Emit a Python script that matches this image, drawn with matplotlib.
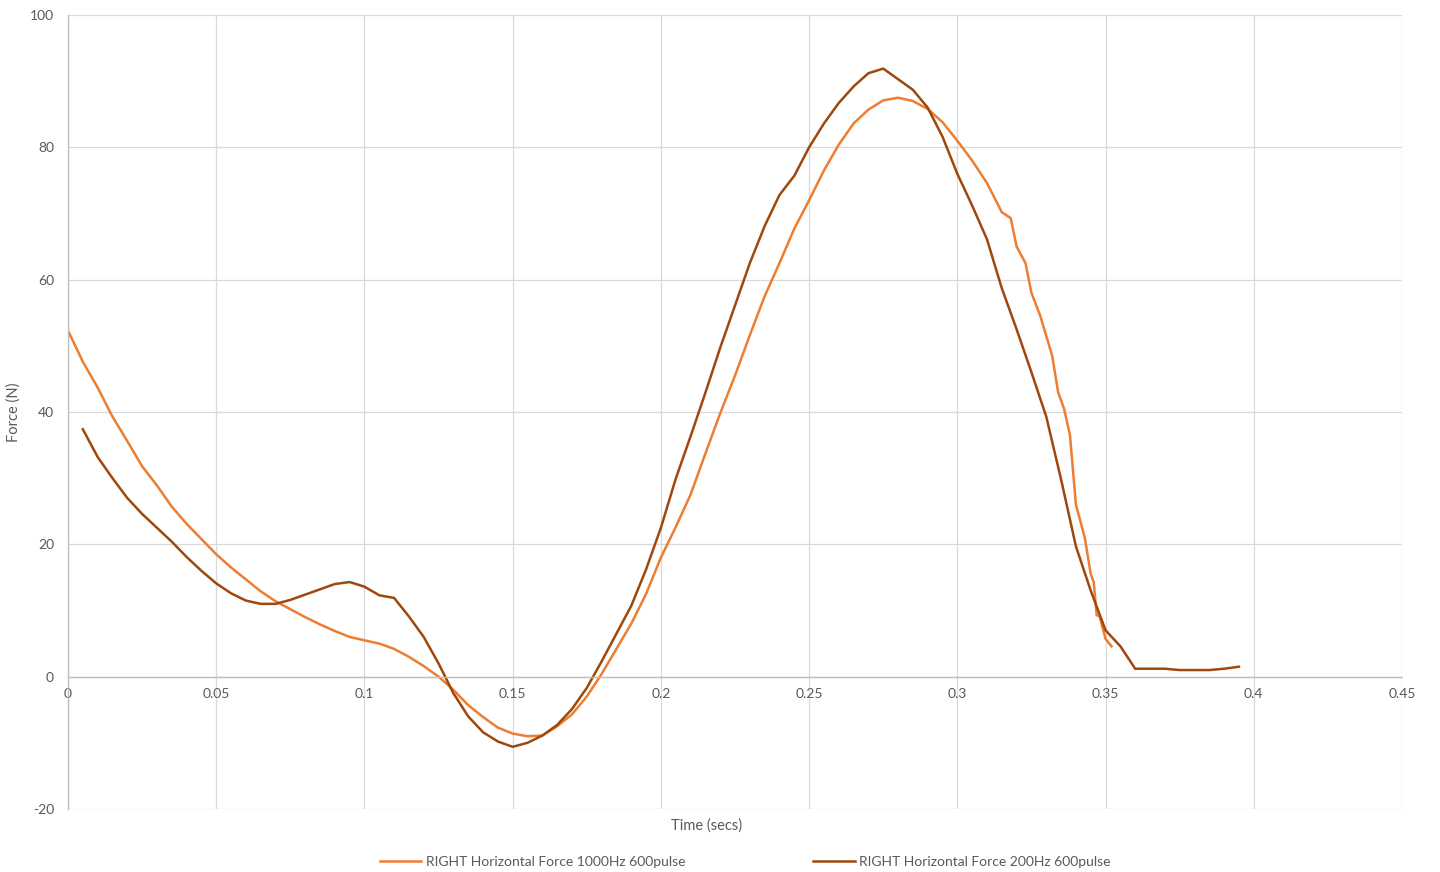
import matplotlib
matplotlib.use("Agg")
import matplotlib.pyplot as plt
import numpy as np

# Time (secs) and force (N)
t_200hz = [0.005, 0.010, 0.015, 0.020, 0.025, 0.030, 0.035, 0.040, 0.045, 0.050,
           0.055, 0.060, 0.065, 0.070, 0.075, 0.080, 0.085, 0.090, 0.095, 0.100,
           0.105, 0.110, 0.115, 0.120, 0.125, 0.130, 0.135, 0.140, 0.145, 0.150,
           0.155, 0.160, 0.165, 0.170, 0.175, 0.180, 0.185, 0.190, 0.195, 0.200,
           0.205, 0.210, 0.215, 0.220, 0.225, 0.230, 0.235, 0.240, 0.245, 0.250,
           0.255, 0.260, 0.265, 0.270, 0.275, 0.280, 0.285, 0.290, 0.295, 0.300,
           0.305, 0.310, 0.315, 0.320, 0.325, 0.330, 0.335, 0.340, 0.345, 0.350,
           0.355, 0.360, 0.365, 0.370, 0.375, 0.380, 0.385, 0.390, 0.395]
force_200hz = [37.4, 33.2, 30.0, 27.0, 24.6, 22.5, 20.4, 18.1, 16.0, 14.1,
               12.6, 11.5, 11.0, 11.0, 11.6, 12.4, 13.2, 14.0, 14.3, 13.6,
               12.3, 11.9, 9.1, 6.0, 2.0, -2.5, -6.0, -8.4, -9.8, -10.6,
               -10.0, -8.9, -7.3, -4.9, -1.7, 2.3, 6.5, 10.7, 16.2, 22.5,
               29.9, 36.3, 42.9, 49.7, 56.1, 62.5, 68.1, 72.8, 75.7, 80.0,
               83.6, 86.7, 89.2, 91.2, 91.9, 90.3, 88.7, 86.0, 81.6, 76.0,
               71.2, 66.1, 58.7, 52.5, 46.0, 39.3, 29.8, 19.7, 13.0, 7.0,
               4.6, 1.2, 1.2, 1.2, 1.0, 1.0, 1.0, 1.2, 1.5]

t_1000hz = [0.000, 0.005, 0.010, 0.015, 0.020, 0.025, 0.030, 0.035, 0.040, 0.045,
            0.050, 0.055, 0.060, 0.065, 0.070, 0.075, 0.080, 0.085, 0.090, 0.095,
            0.100, 0.105, 0.110, 0.115, 0.120, 0.125, 0.130, 0.135, 0.140, 0.145,
            0.150, 0.155, 0.160, 0.165, 0.170, 0.175, 0.180, 0.185, 0.190, 0.195,
            0.200, 0.205, 0.210, 0.215, 0.220, 0.225, 0.230, 0.235, 0.240, 0.245,
            0.250, 0.255, 0.260, 0.265, 0.270, 0.275, 0.280, 0.285, 0.290, 0.295,
            0.300, 0.305, 0.310, 0.315, 0.318, 0.320, 0.323, 0.325, 0.328, 0.330,
            0.332, 0.334, 0.336, 0.338, 0.340, 0.343, 0.345, 0.346, 0.347, 0.348,
            0.350, 0.352]
force_1000hz = [52.3, 47.6, 43.7, 39.3, 35.6, 31.8, 28.9, 25.7, 23.1, 20.8,
                18.5, 16.5, 14.7, 12.9, 11.4, 10.2, 9.0, 7.9, 6.9, 6.0,
                5.5, 5.0, 4.2, 3.0, 1.6, 0.0, -2.0, -4.3, -6.1, -7.7,
                -8.6, -9.0, -8.9, -7.5, -5.7, -3.0, 0.4, 4.2, 8.0, 12.5,
                18.0, 22.6, 27.5, 33.7, 39.8, 45.5, 51.6, 57.5, 62.5, 67.7,
                72.0, 76.5, 80.4, 83.6, 85.7, 87.1, 87.5, 87.0, 85.8, 83.8,
                81.0, 78.0, 74.6, 70.2, 69.3, 65.0, 62.5, 58.0, 54.5, 51.5,
                48.5, 43.0, 40.5, 36.5, 26.0, 21.0, 15.5, 14.3, 9.3, 9.1,
                5.7, 4.6]

labels = ['RIGHT Horizontal Force 1000Hz 600pulse', 'RIGHT Horizontal Force 200Hz 600pulse']
colors = ['#ED7D31', '#9E480E']

x_ticks = [0, 0.05, 0.1, 0.15, 0.2, 0.25, 0.3, 0.35, 0.4, 0.45]
x_tick_labels = ['0', '0.05', '0.1', '0.15', '0.2', '0.25', '0.3', '0.35', '0.4', '0.45']
y_ticks = [-20, 0, 20, 40, 60, 80, 100]

plt.rcParams['font.family'] = ['Lato', 'DejaVu Sans']
plt.rcParams['axes.unicode_minus'] = False

fig = plt.figure(figsize=(14.4, 8.72), dpi=100)
ax = fig.add_axes([68 / 1440, 63 / 872, 1334 / 1440, 794 / 872])

ax.plot(t_1000hz, force_1000hz, color=colors[0], linewidth=1.8, label=labels[0])
ax.plot(t_200hz, force_200hz, color=colors[1], linewidth=1.8, label=labels[1])

ax.set_xlim(0, 0.45)
ax.set_ylim(-20, 100)
ax.set_xticks(x_ticks)
ax.set_xticklabels(x_tick_labels)
ax.set_yticks(y_ticks)

ax.grid(True, color='#D9D9D9', linewidth=0.9)
ax.set_axisbelow(True)

for side in ['top', 'right']:
    ax.spines[side].set_visible(False)
ax.spines['left'].set_color('#BFBFBF')
ax.spines['left'].set_linewidth(1.0)
ax.spines['bottom'].set_position(('data', 0))
ax.spines['bottom'].set_color('#BFBFBF')
ax.spines['bottom'].set_linewidth(1.0)

ax.tick_params(axis='both', length=0, labelsize=10, labelcolor='#595959')
ax.tick_params(axis='x', pad=8)
ax.tick_params(axis='y', pad=10)

fig.text(707 / 1440, 1 - 826 / 872, 'Time (secs)', ha='center', va='center',
         fontsize=10.5, color='#595959')
fig.text(14 / 1440, 1 - 412 / 872, 'Force (N)', ha='center', va='center',
         rotation=90, fontsize=10.5, color='#595959')

leg = fig.legend(loc='center', bbox_to_anchor=(745 / 1440, 10 / 872), ncol=2,
                 frameon=False, fontsize=10, handlelength=3.0, handletextpad=0.3,
                 columnspacing=9.2)
for txt in leg.get_texts():
    txt.set_color('#595959')

fig.savefig('out.png', dpi=100)
